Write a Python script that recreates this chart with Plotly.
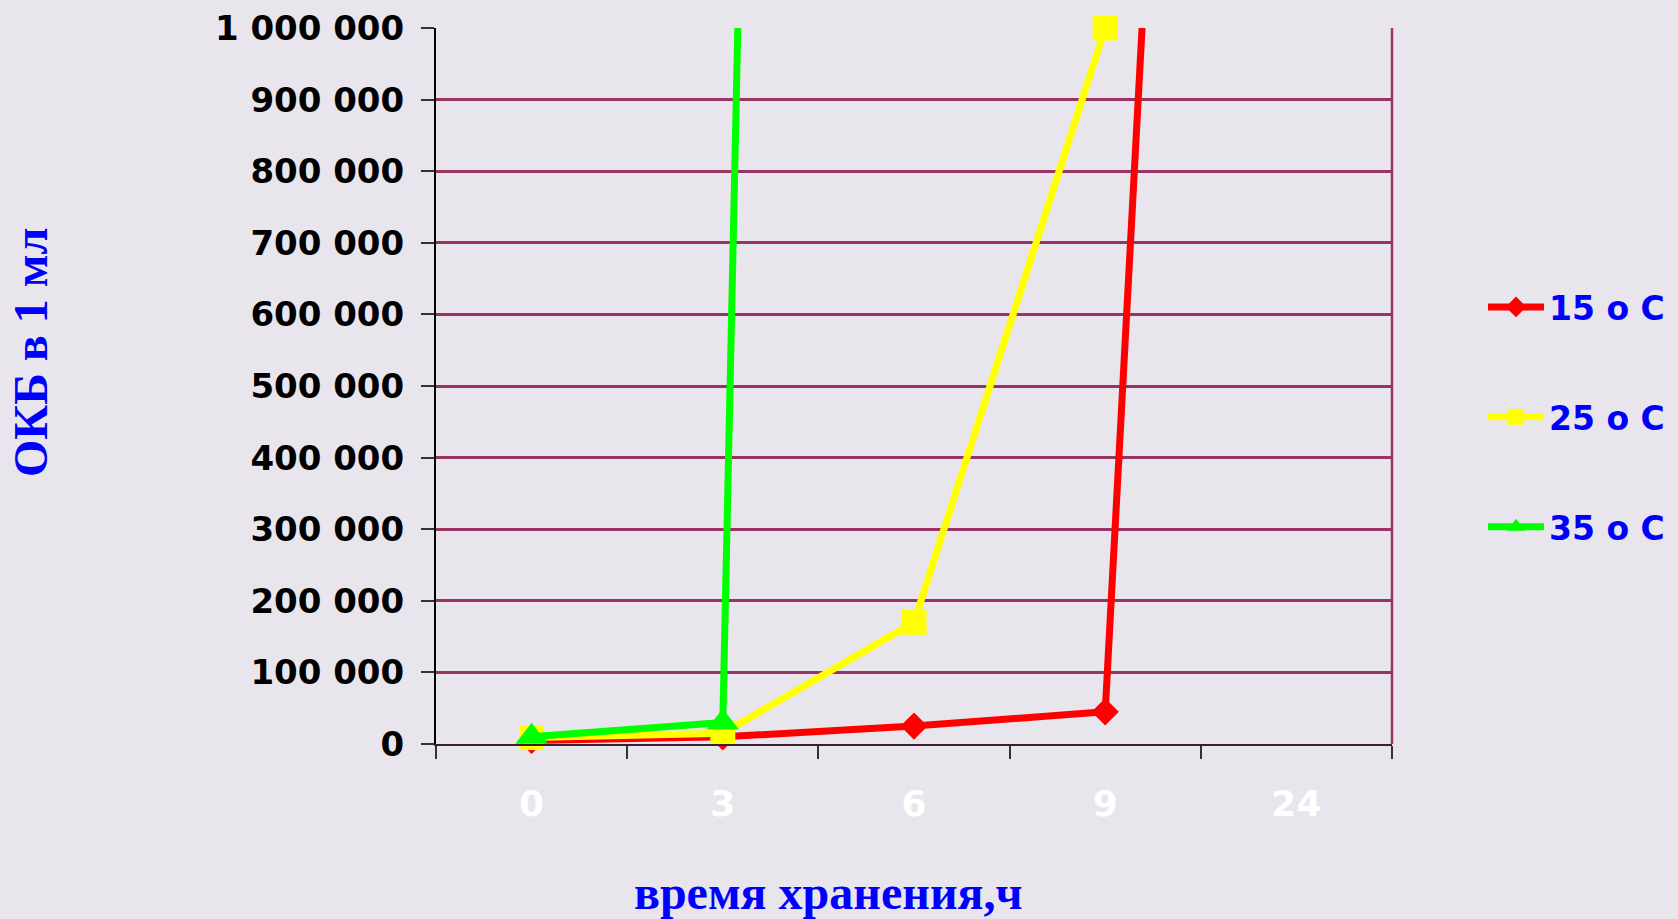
import plotly.graph_objects as go

# Storage time (hours) and bacterial counts per 1 ml at three temperatures
hours = ["0", "3", "6", "9", "24"]
series_names = ["15 o C", "25 o C", "35 o C"]
count_15 = [5000, 10000, 25000, 45000, 5000000]
count_25 = [9000, 15000, 170000, 1000000, None]
count_35 = [10000, 30000, 12400000, None, None]

colors = ["#FF0000", "#FFFF00", "#00FF00"]
symbols = ["diamond", "square", "triangle-up"]
marker_sizes = [21, 25, 28]

BG = "#E8E5ED"
GRID = "#993366"
BLUE = "#0000FF"

fig = go.Figure()
for name, vals, col, sym, ms in zip(series_names, [count_15, count_25, count_35],
                                    colors, symbols, marker_sizes):
    fig.add_trace(go.Scatter(
        x=hours, y=vals, name=name, mode="lines+markers",
        line=dict(color=col, width=7),
        marker=dict(color=col, symbol=sym, size=ms, line=dict(width=0)),
        cliponaxis=False, legendgroup=name,
    ))

fig.update_layout(
    width=1678, height=919,
    paper_bgcolor=BG, plot_bgcolor=BG,
    margin=dict(l=436, r=286, t=28, b=175, autoexpand=False),
    separators=", ",
    font=dict(family="DejaVu Sans", size=34, color="black", weight="bold"),
    showlegend=True,
    legend=dict(
        xref="container", yref="container",
        x=1483 / 1678, xanchor="left", y=1 - 417 / 919, yanchor="middle",
        bgcolor="rgba(0,0,0,0)", font=dict(color=BLUE, size=33, family="DejaVu Sans", weight="bold"),
        itemwidth=56, tracegroupgap=64, itemclick=False,
    ),
    xaxis=dict(
        type="category", categoryorder="array", categoryarray=hours,
        range=[-0.5, 4.5], showgrid=False, zeroline=False, automargin=False,
        showline=True, linecolor="#3a1f33", linewidth=2,
        ticks="outside", tickson="boundaries", ticklen=13, tickwidth=2, tickcolor="#333333",
        tickfont=dict(color="white", size=36, family="DejaVu Sans", weight="bold"),
        ticklabelstandoff=27,
    ),
    yaxis=dict(
        range=[0, 1000000], dtick=100000, tickformat=",d", automargin=False,
        showgrid=True, gridcolor=GRID, gridwidth=2.5,
        zeroline=False, showline=True, linecolor="black", linewidth=2,
        ticks="outside", ticklen=13, tickwidth=2, tickcolor="#333333",
        tickfont=dict(color="black", size=34, family="DejaVu Sans", weight="bold"),
        ticklabelstandoff=10,
    ),
    shapes=[dict(type="line", xref="x domain", yref="y domain", x0=1, x1=1, y0=0, y1=1,
                 line=dict(color=GRID, width=2.5))],
    annotations=[
        dict(text="время хранения,ч", xref="paper", yref="paper",
             x=(828 - 436) / 956, y=-(892 - 744) / 716, xanchor="center", yanchor="middle",
             showarrow=False,
             font=dict(family="Liberation Serif", size=48, color=BLUE, weight="bold")),
        dict(text="ОКБ в 1 мл", xref="paper", yref="paper",
             x=-(436 - 30) / 956, y=(744 - 353) / 716, xanchor="center", yanchor="middle",
             textangle=-90, showarrow=False,
             font=dict(family="Liberation Serif", size=48, color=BLUE, weight="bold")),
    ],
)

fig.write_html("out.html")
